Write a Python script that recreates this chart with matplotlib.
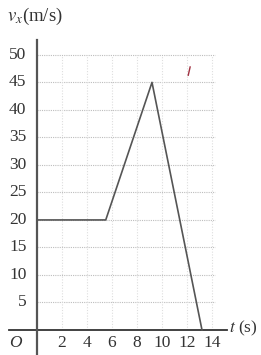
import matplotlib
matplotlib.use("Agg")
import matplotlib.pyplot as plt

# data
t_points = [0, 5.5, 9.2, 13.2]
v_points = [20, 20, 45, 0]
x_ticks = [2, 4, 6, 8, 10, 12, 14]
y_ticks = [5, 10, 15, 20, 25, 30, 35, 40, 45, 50]

plt.rcParams['font.family'] = ['Liberation Serif', 'DejaVu Serif']
plt.rcParams['mathtext.fontset'] = 'stix'

W, H = 261, 355
fig = plt.figure(figsize=(W / 100, H / 100), dpi=100)
L, R, B, T = 37, 227, 330, 40
ax = fig.add_axes([L / W, (H - B) / H, (R - L) / W, (B - T) / H])
xmax = 15.2
ymax = 52.7
ax.set_xlim(0, xmax)
ax.set_ylim(0, ymax)
for s in ax.spines.values():
    s.set_visible(False)
ax.set_xticks([])
ax.set_yticks([])

gx_end = 14.2
for y in y_ticks:
    ax.plot([0, gx_end], [y, y], color='#bdbdbd', lw=0.8, ls=(0, (1, 1)), zorder=1)
for x in x_ticks:
    ax.plot([x, x], [0, 50], color='#dedede', lw=0.8, ls=(0, (1, 1.5)), zorder=1)

# axes lines
ax.plot([-2.2, xmax], [0, 0], color='#333333', lw=1.3, clip_on=False, zorder=3)
ax.plot([0, 0], [-4.6, ymax], color='#555555', lw=1.6, clip_on=False, zorder=3)

# data line
ax.plot(t_points, v_points, color='#555555', lw=1.2, zorder=4, clip_on=False)

# stray pen mark
ax.plot([12.1, 12.25], [46.3, 47.8], color='#a03040', lw=1.0, zorder=4)

fs = 12.5
for y in y_ticks:
    ax.text(-0.85, y, str(y), ha='right', va='center', fontsize=fs, color='#333333')
for x in x_ticks:
    ax.text(x, -2.4, str(x), ha='center', va='center', fontsize=fs, color='#333333')

ax.text(-1.7, -2.4, 'O', ha='center', va='center', fontsize=fs, style='italic', color='#333333')
ax.text(-2.4, 57.0, r'$v_x$(m/s)', ha='left', va='center', fontsize=13.5, color='#333333')
ax.text(xmax + 0.2, 0.3, r'$t$ (s)', ha='left', va='center', fontsize=fs, color='#333333', clip_on=False)

fig.savefig('out.png', dpi=100)
